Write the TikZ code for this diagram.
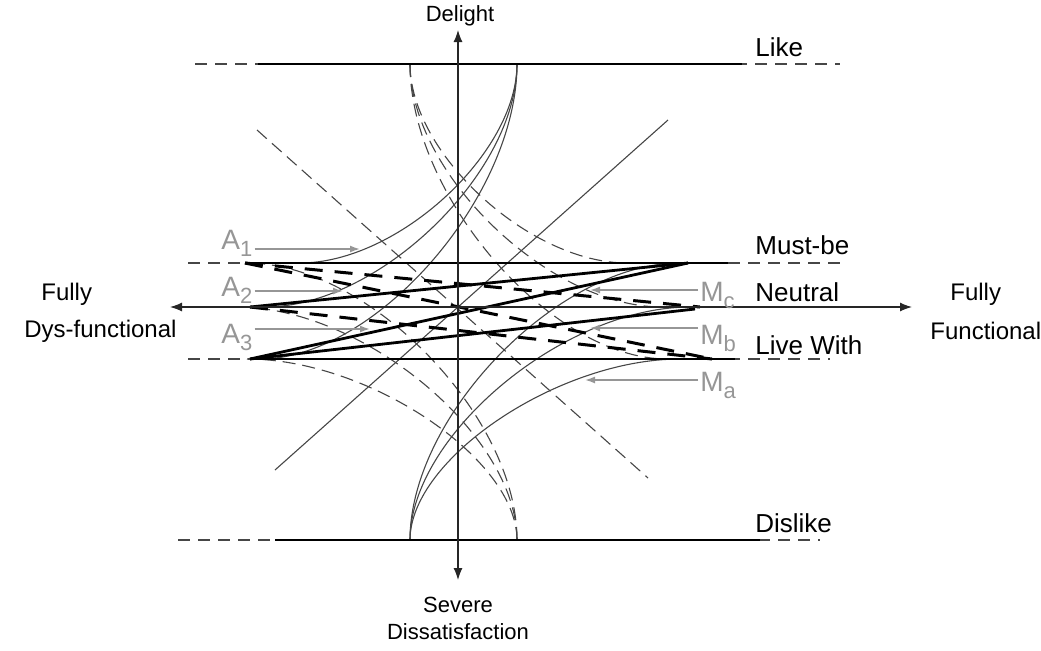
\documentclass[tikz,border=0pt]{standalone}
\usepackage{fontspec}
\setmainfont{Liberation Sans}
\usetikzlibrary{arrows.meta,calc}
\definecolor{kgray}{RGB}{150,150,150}
\definecolor{kline}{RGB}{70,70,70}
\tikzset{
  level/.style={line width=1.3pt, black},
  levelext/.style={line width=0.7pt, kline, dash pattern=on 6pt off 4pt},
  thincurve/.style={line width=0.55pt, kline},
  thindash/.style={line width=0.55pt, kline, dash pattern=on 6.5pt off 3.5pt},
  boldline/.style={line width=1.4pt, black},
  bolddash/.style={line width=1.5pt, black, dash pattern=on 9pt off 6pt},
  axisline/.style={line width=0.6pt, black!85, -{Latex[length=6pt,width=4.5pt]}},
  lbl/.style={font=\fontsize{11}{13.5}\selectfont, inner sep=0pt},
  sidelbl/.style={font=\fontsize{12}{14}\selectfont, inner sep=0pt},
  lvllbl/.style={font=\fontsize{13}{15}\selectfont, inner sep=0pt},
  glbl/.style={font=\fontsize{14}{16}\selectfont, text=kgray, inner sep=0pt},
  garrow/.style={draw=kgray, line width=0.8pt, -{Latex[length=5pt,width=3.5pt]}}
}
\newcommand{\lsub}[2]{#1\raisebox{-0.5ex}{\fontsize{11}{11}\selectfont #2}}

\begin{document}
\begin{tikzpicture}[x=0.5pt,y=-0.5pt]
\useasboundingbox (0,0) rectangle (1041,650);

% key points
\coordinate (O) at (458,307);
\coordinate (ytop) at (458,30);
\coordinate (ybot) at (458,580);
\coordinate (xleft) at (170,307);
\coordinate (xright) at (912,307);
\coordinate (cuspTR) at (517,64);
\coordinate (cuspTL) at (410,64);
\coordinate (cuspBL) at (410,540);
\coordinate (cuspBR) at (517,540);

% dashed ends of the levels
\foreach \yy/\dl/\dr in {64/195/840, 263/188/840, 359/188/830, 540/178/820}
  \draw[levelext] (\dl,\yy) -- (\dr,\yy);

% attractive curves (solid, top) and mirrored dashed ones
\foreach \xe/\ye in {300/263, 265/307, 260/359}
  \draw[thincurve] (cuspTR) .. controls (517,{64+0.45*(\ye-64)}) and ({\xe+0.45*(517-\xe)},\ye) .. (\xe,\ye);
\foreach \xe/\ye in {627/263, 662/307, 667/359}
  \draw[thindash] (cuspTL) .. controls (410,{64+0.45*(\ye-64)}) and ({\xe-0.45*(\xe-410)},\ye) .. (\xe,\ye);

% must-be curves (solid, bottom) and mirrored dashed ones
\foreach \xe/\ye in {680/263, 690/307, 680/359}
  \draw[thincurve] (cuspBL) .. controls (410,{540-0.45*(540-\ye)}) and ({\xe-0.45*(\xe-410)},\ye) .. (\xe,\ye);
\foreach \xe/\ye in {247/263, 237/307, 247/359}
  \draw[thindash] (cuspBR) .. controls (517,{540-0.45*(540-\ye)}) and ({\xe+0.45*(517-\xe)},\ye) .. (\xe,\ye);

% diagonals through the origin
\coordinate (dgA) at (275,470);
\coordinate (dgB) at (668,120);
\coordinate (dgC) at (257,130);
\coordinate (dgD) at (648,478);
\draw[thincurve] (dgA) -- (dgB);
\draw[thindash] (dgC) -- (dgD);

% solid levels
\foreach \yy/\sl/\sr in {64/258/742, 263/245/728, 307/250/735, 359/250/735, 540/275/760}
  \draw[level] (\sl,\yy) -- (\sr,\yy);

% bold lines in the band
\draw[boldline] (250,307) -- (688,263);
\draw[boldline] (250,359) -- (688,263);
\draw[boldline] (250,359) -- (695,309);
\draw[bolddash] (245,263) -- (700,307);
\draw[bolddash] (245,263) -- (712,359);
\draw[bolddash] (250,307) -- (712,359);

% axes
\draw[axisline] (O) -- (ytop);
\draw[axisline] (O) -- (ybot);
\draw[axisline] (O) -- (xleft);
\draw[axisline] (O) -- (xright);

% axis texts
\node[lbl] (delight) at (460,16) {Delight};
\node[lbl, align=center] (severe) at (458,618) {Severe\\Dissatisfaction};
\node[sidelbl, anchor=west] (fullyL) at (41,294) {Fully};
\node[sidelbl, anchor=west] (dysL) at (24,331) {Dys-functional};
\node[sidelbl, anchor=west] (fullyR) at (950,294) {Fully};
\node[sidelbl, anchor=west] (funcR) at (930,331) {Functional};

% level texts
\foreach \nm/\txt/\yy in {like/Like/47, mustbe/Must-be/245, neutral/Neutral/292, livewith/Live With/345, dislike/Dislike/523}
  \node[lvllbl, anchor=west] (\nm) at (755,\yy) {\txt};

% A and M pointers
\foreach \i/\yb/\ya/\xt in {1/249/249/360, 2/296/291/343, 3/343/329/370} {
  \node[glbl, anchor=base west] (A\i) at (221,\yb) {\lsub{A}{\i}};
  \coordinate (a\i) at (\xt,\ya);
  \draw[garrow] ([xshift=1pt]A\i.east |- a\i) -- (a\i);
}
\foreach \s/\yb/\ya/\xt in {c/301/290/590, b/344/328/590, a/391/380/585} {
  \node[glbl, anchor=base west] (M\s) at (700,\yb) {\lsub{M}{\s}};
  \coordinate (m\s) at (\xt,\ya);
  \draw[garrow] ([xshift=-1pt]M\s.west |- m\s) -- (m\s);
}
\end{tikzpicture}
\end{document}
